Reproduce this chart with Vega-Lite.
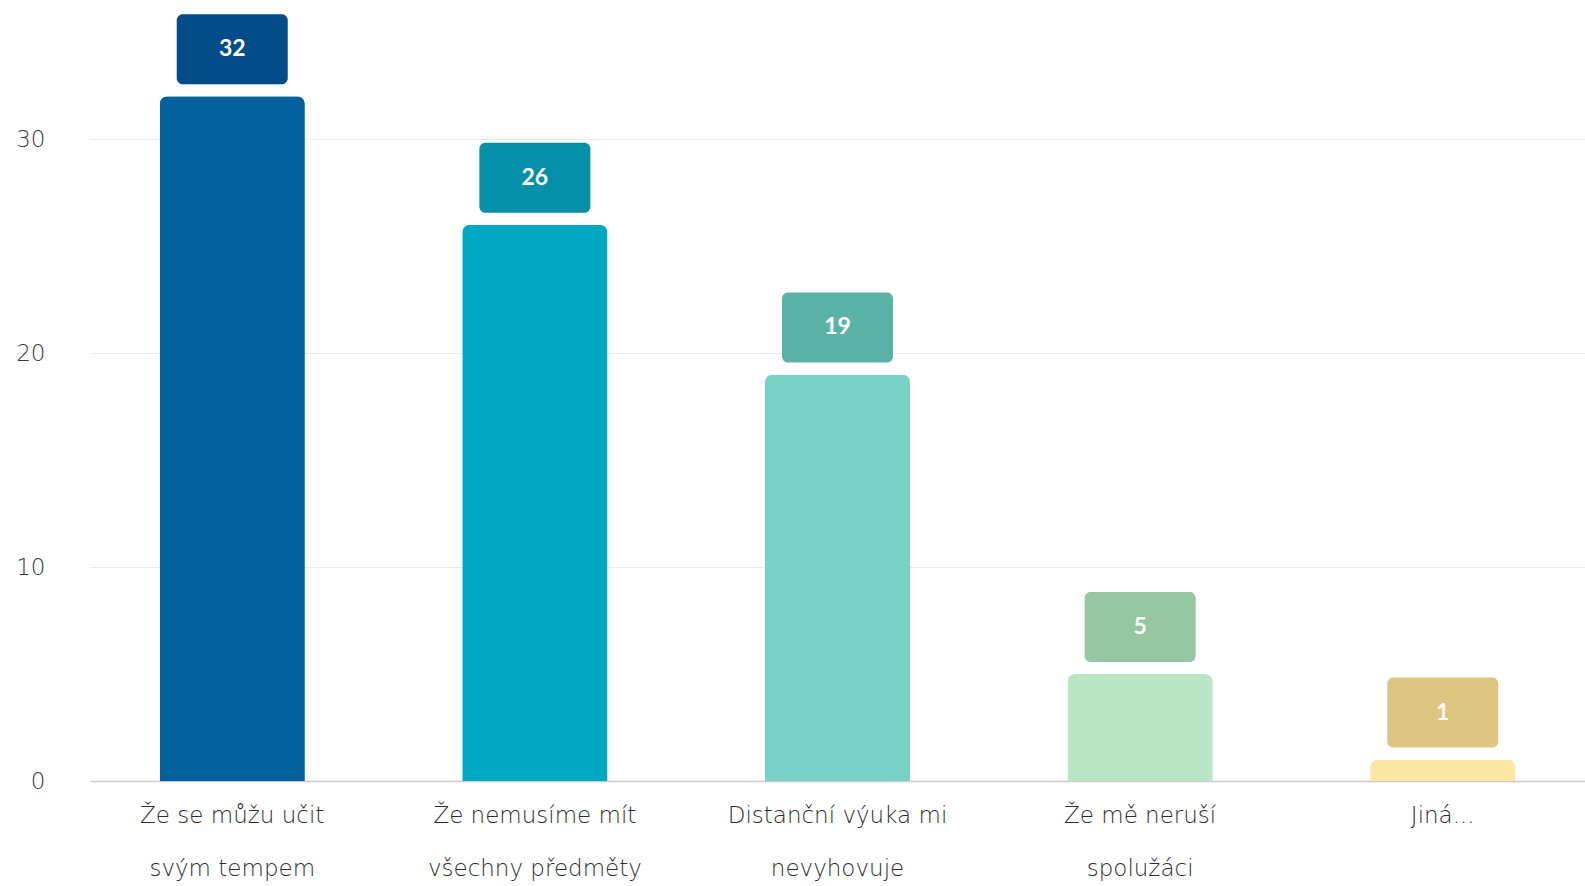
{
  "$schema": "https://vega.github.io/schema/vega-lite/v6.json",
  "autosize": "none",
  "width": 1495,
  "height": 781,
  "padding": {"left": 90, "top": 0, "right": 0, "bottom": 105},
  "background": "#ffffff",
  "data": {
    "values": [
      {"odpoved": "Že se můžu učit|svým tempem", "pocet": 32, "barva": "#04609d", "barvaStitku": "#034c8a"},
      {"odpoved": "Že nemusíme mít|všechny předměty", "pocet": 26, "barva": "#00a8c3", "barvaStitku": "#0490a8"},
      {"odpoved": "Distanční výuka mi|nevyhovuje", "pocet": 19, "barva": "#78d3c6", "barvaStitku": "#5ab3a6"},
      {"odpoved": "Že mě neruší|spolužáci", "pocet": 5, "barva": "#bbe6c5", "barvaStitku": "#97c6a2"},
      {"odpoved": "Jiná...", "pocet": 1, "barva": "#fde8a3", "barvaStitku": "#dcc681"}
    ]
  },
  "config": {
    "view": {"stroke": null},
    "font": "DejaVu Sans"
  },
  "encoding": {
    "x": {
      "field": "odpoved",
      "type": "nominal",
      "sort": null,
      "scale": {"paddingInner": 0.52, "paddingOuter": 0.23},
      "axis": {
        "title": null,
        "labelAngle": 0,
        "labelExpr": "split(datum.value, '|')",
        "labelFontSize": 23,
        "labelFontWeight": 300,
        "labelLineHeight": 53,
        "labelColor": "#2e2e2e",
        "labelPadding": 23,
        "labelLimit": 400,
        "ticks": false,
        "domain": true,
        "domainColor": "#cccccc",
        "domainWidth": 1.5
      }
    },
    "y": {
      "field": "pocet",
      "type": "quantitative",
      "scale": {"domain": [0, 36.5], "nice": false},
      "axis": {
        "title": null,
        "values": [0, 10, 20, 30],
        "labelFontSize": 23,
        "labelFontWeight": 300,
        "labelColor": "#3a3a3a",
        "labelPadding": 45,
        "ticks": false,
        "domain": false,
        "gridColor": "#ebebeb",
        "gridWidth": 1
      }
    }
  },
  "layer": [
    {
      "mark": {"type": "bar", "cornerRadiusTopLeft": 8, "cornerRadiusTopRight": 8},
      "encoding": {
        "color": {"field": "barva", "type": "nominal", "scale": null, "legend": null}
      }
    },
    {
      "mark": {"type": "rect", "width": 111, "height": 70, "yOffset": -47, "cornerRadius": 6},
      "encoding": {
        "color": {"field": "barvaStitku", "type": "nominal", "scale": null, "legend": null}
      }
    },
    {
      "mark": {"type": "text", "yOffset": -47, "baseline": "middle", "align": "center", "fontSize": 23, "fontWeight": "bold", "font": "Lato", "color": "#ffffff"},
      "encoding": {
        "text": {"field": "pocet", "type": "quantitative"}
      }
    }
  ]
}
